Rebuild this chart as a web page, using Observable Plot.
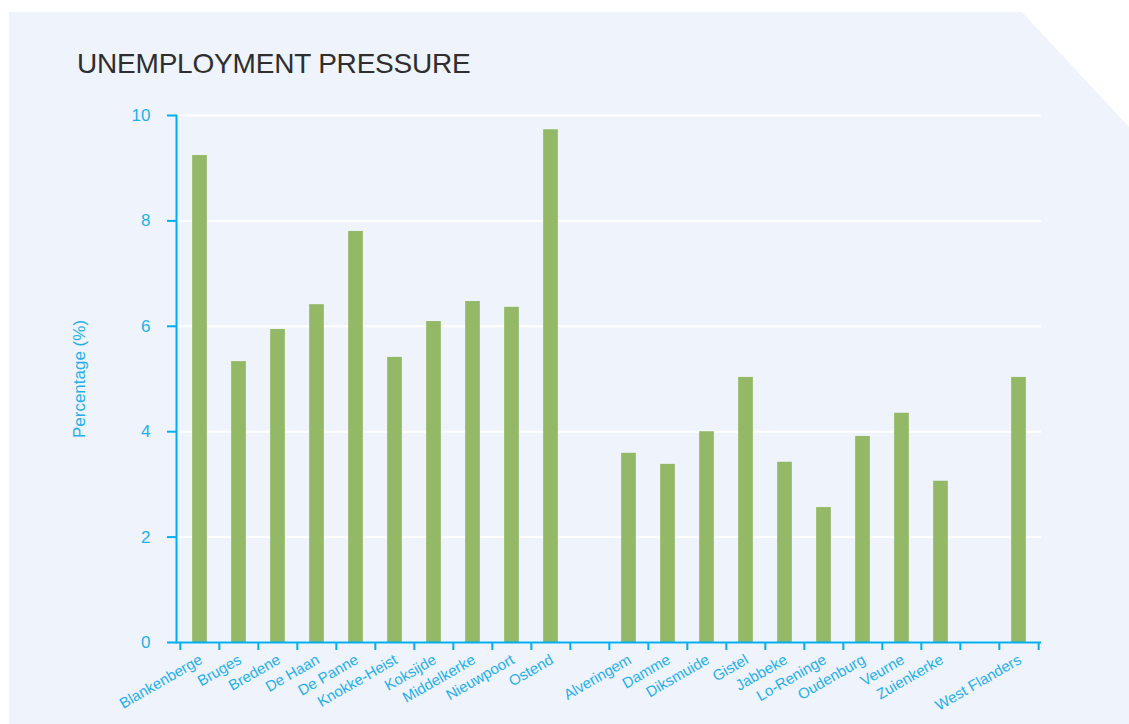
<!DOCTYPE html>
<html>
<head>
<meta charset="utf-8">
<script src="https://cdn.jsdelivr.net/npm/d3@7"></script>
<script src="https://cdn.jsdelivr.net/npm/@observablehq/plot@0.6"></script>
<style>
  html, body { margin: 0; padding: 0; background: #ffffff; }
  #wrap { position: relative; width: 1129px; height: 724px; overflow: hidden; font-family: "Liberation Sans", Arial, sans-serif; }
  #panel { position: absolute; left: 9px; top: 12px; right: 0; bottom: 0; background: #eff3fb;
           clip-path: polygon(0 0, 1013px 0, 100% 115px, 100% 100%, 0 100%); }
  #title { position: absolute; left: 77px; top: 50px; font-size: 28px; line-height: 28px; color: #2e2e2e; letter-spacing: -0.2px; }
  #chart { position: absolute; left: 0; top: 90px; }
</style>
</head>
<body>
<div id="wrap">
  <div id="panel"></div>
  <div id="title">UNEMPLOYMENT PRESSURE</div>
  <div id="chart"></div>
</div>
<script>
const categories = ["Blankenberge", "Bruges", "Bredene", "De Haan", "De Panne", "Knokke-Heist", "Koksijde", "Middelkerke", "Nieuwpoort", "Ostend",
  " ",
  "Alveringem", "Damme", "Diksmuide", "Gistel", "Jabbeke", "Lo-Reninge", "Oudenburg", "Veurne", "Zuienkerke",
  "  ",
  "West Flanders"];
const names = ["Blankenberge", "Bruges", "Bredene", "De Haan", "De Panne", "Knokke-Heist", "Koksijde", "Middelkerke", "Nieuwpoort", "Ostend",
  "Alveringem", "Damme", "Diksmuide", "Gistel", "Jabbeke", "Lo-Reninge", "Oudenburg", "Veurne", "Zuienkerke",
  "West Flanders"];
const values = [9.24, 5.33, 5.94, 6.41, 7.80, 5.41, 6.09, 6.47, 6.36, 9.73,
  3.59, 3.38, 4.00, 5.03, 3.42, 2.56, 3.91, 4.35, 3.06,
  5.03];
const yTicks = [0, 2, 4, 6, 8, 10];

const data = names.map((n, i) => ({name: n, value: values[i]}));

const W = 1129, H = 634, mL = 176, mR = 88, mT = 25, mB = 82;
const bw = (W - mL - mR) / categories.length;
const axisColor = "#00aeef";
const textColor = "#1fb0ec";

const chart = Plot.plot({
  width: W, height: H,
  marginLeft: mL, marginRight: mR, marginTop: mT, marginBottom: mB,
  style: {fontFamily: "Liberation Sans, Arial, sans-serif", background: "transparent"},
  x: {domain: categories, padding: 0},
  y: {domain: [0, 10]},
  marks: [
    Plot.gridY(yTicks, {stroke: "#ffffff", strokeOpacity: 1, strokeWidth: 2}),
    Plot.barY(data, {x: "name", y: "value", fill: "#93b866", insetLeft: (bw - 15) / 2, insetRight: (bw - 15) / 2}),
    Plot.ruleY([0], {stroke: axisColor, strokeWidth: 2}),
    Plot.frame({anchor: "left", stroke: axisColor, strokeWidth: 2}),
    Plot.axisY(yTicks, {tickSize: 9, tickPadding: 17, tickFormat: d3.format("d"), stroke: axisColor, strokeWidth: 2, fill: textColor, fontSize: 17,
      label: "Percentage (%)", labelArrow: false, labelAnchor: "center", labelOffset: 104}),
    Plot.axisX({ticks: categories, text: null, tickSize: 8, dx: -bw / 2, stroke: axisColor, strokeWidth: 2, label: null}),
    Plot.axisX({ticks: ["West Flanders"], text: null, tickSize: 8, dx: bw / 2, stroke: axisColor, strokeWidth: 2, label: null}),
    Plot.axisX({ticks: names, tickSize: 0, tickPadding: 16, tickRotate: -30, textAnchor: "end", fill: textColor, fontSize: 15, dx: 1, label: null})
  ]
});
document.getElementById("chart").appendChild(chart);
</script>
</body>
</html>
